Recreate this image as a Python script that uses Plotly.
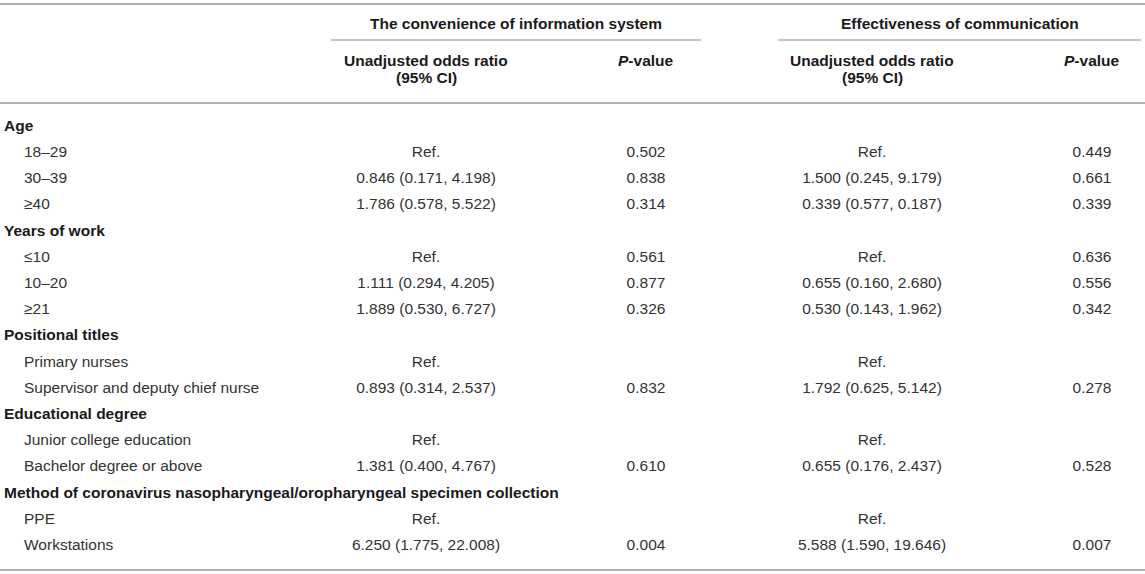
import plotly.graph_objects as go

# table content
row_labels = ["Age", "18–29", "30–39", "≥40",
              "Years of work", "≤10", "10–20", "≥21",
              "Positional titles", "Primary nurses", "Supervisor and deputy chief nurse",
              "Educational degree", "Junior college education", "Bachelor degree or above",
              "Method of coronavirus nasopharyngeal/oropharyngeal specimen collection",
              "PPE", "Workstations"]
is_group = [1, 0, 0, 0, 1, 0, 0, 0, 1, 0, 0, 1, 0, 0, 1, 0, 0]

or_info = ["", "Ref.", "0.846 (0.171, 4.198)", "1.786 (0.578, 5.522)",
           "", "Ref.", "1.111 (0.294, 4.205)", "1.889 (0.530, 6.727)",
           "", "Ref.", "0.893 (0.314, 2.537)",
           "", "Ref.", "1.381 (0.400, 4.767)",
           "", "Ref.", "6.250 (1.775, 22.008)"]
p_info = ["", "0.502", "0.838", "0.314",
          "", "0.561", "0.877", "0.326",
          "", "", "0.832",
          "", "", "0.610",
          "", "", "0.004"]
or_comm = ["", "Ref.", "1.500 (0.245, 9.179)", "0.339 (0.577, 0.187)",
           "", "Ref.", "0.655 (0.160, 2.680)", "0.530 (0.143, 1.962)",
           "", "Ref.", "1.792 (0.625, 5.142)",
           "", "Ref.", "0.655 (0.176, 2.437)",
           "", "Ref.", "5.588 (1.590, 19.646)"]
p_comm = ["", "0.449", "0.661", "0.339",
          "", "0.636", "0.556", "0.342",
          "", "", "0.278",
          "", "", "0.528",
          "", "", "0.007"]

group_titles = ["The convenience of information system", "Effectiveness of communication"]

W, H = 1145, 574
FONT = "Liberation Sans, Arial, sans-serif"
FS = 15.5
TXT = "#333333"
HEAD = "#1a1a1a"
LINE = "#b0b0b0"

# row geometry (pixels)
ROW0, STEP = 127, 26.2
col_x = [426, 646, 872, 1092]


def py(p):
    # pixel y -> row units on the y axis
    return (p - ROW0) / STEP


rows = list(range(len(row_labels)))
fig = go.Figure()

# first column: group headers bold at left, items indented
grp_rows = [i for i in rows if is_group[i]]
item_rows = [i for i in rows if not is_group[i]]
fig.add_trace(go.Scatter(
    x=[4] * len(grp_rows), y=grp_rows, mode="text",
    text=["<b>" + row_labels[i] + "</b>" for i in grp_rows],
    textposition="middle right",
    textfont=dict(family=FONT, size=FS, color=HEAD), hoverinfo="skip"))
fig.add_trace(go.Scatter(
    x=[24] * len(item_rows), y=item_rows, mode="text",
    text=[row_labels[i] for i in item_rows],
    textposition="middle right",
    textfont=dict(family=FONT, size=FS, color=TXT), hoverinfo="skip"))

for cx, vals in zip(col_x, [or_info, p_info, or_comm, p_comm]):
    fig.add_trace(go.Scatter(
        x=[cx] * len(vals), y=rows, mode="text", text=vals,
        textposition="middle center",
        textfont=dict(family=FONT, size=FS, color=TXT), hoverinfo="skip"))

# header
ann = []
for t, (x0, x1) in zip(group_titles, [(331, 701), (778, 1141)]):
    ann.append(dict(x=(x0 + x1) / 2, y=py(23), text="<b>" + t + "</b>"))
for cx in (col_x[0], col_x[2]):
    ann.append(dict(x=cx, y=py(60), text="<b>Unadjusted odds ratio</b>"))
    ann.append(dict(x=cx, y=py(77), text="<b>(95% CI)</b>"))
for cx in (col_x[1], col_x[3]):
    ann.append(dict(x=cx, y=py(60), text="<b><i>P</i>-value</b>"))
for a in ann:
    a.update(xref="x", yref="y", showarrow=False, xanchor="center", yanchor="middle",
             font=dict(family=FONT, size=FS, color=HEAD))
fig.update_layout(annotations=ann)

shapes = [
    dict(x0=0, x1=W, y0=py(4), y1=py(4), line=dict(color=LINE, width=2)),
    dict(x0=331, x1=701, y0=py(40), y1=py(40), line=dict(color=LINE, width=1.5)),
    dict(x0=778, x1=1141, y0=py(40), y1=py(40), line=dict(color=LINE, width=1.5)),
    dict(x0=0, x1=W, y0=py(103), y1=py(103), line=dict(color=LINE, width=2)),
    dict(x0=0, x1=W, y0=py(570), y1=py(570), line=dict(color=LINE, width=2)),
]
for s in shapes:
    s.update(type="line", xref="x", yref="y")
fig.update_layout(shapes=shapes)

fig.update_layout(
    width=W, height=H,
    margin=dict(l=0, r=0, t=0, b=0),
    paper_bgcolor="white", plot_bgcolor="white",
    showlegend=False,
    xaxis=dict(range=[0, W], visible=False, fixedrange=True),
    yaxis=dict(range=[py(H), py(0)], visible=False, fixedrange=True),
)

# drop the browser's default body margin so the table sits at the page origin
fig.write_html("out.html", config={"displayModeBar": False},
               post_script="document.body.style.margin='0';")
